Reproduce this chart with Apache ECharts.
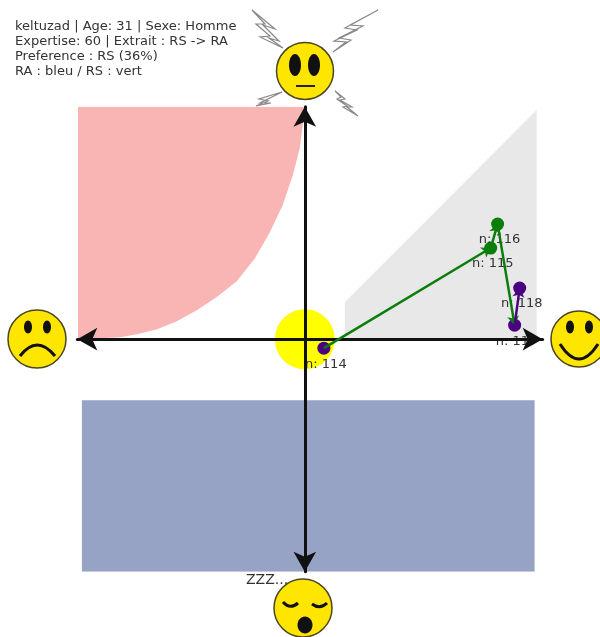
<!DOCTYPE html>
<html>
<head>
<meta charset="utf-8">
<style>html,body{margin:0;padding:0;background:#fff}#main{width:600px;height:637px}</style>
<script src="https://cdn.jsdelivr.net/npm/echarts@6/dist/echarts.min.js"></script>
</head>
<body>
<div id="main"></div>
<script>
var infoLines = [
	'keltuzad | Age: 31 | Sexe: Homme',
	'Expertise: 60 | Extrait : RS -> RA',
	'Preference : RS (36%)',
	'RA : bleu / RS : vert'
];
// zones de fond
var pinkZone = [[-98.7,0.4],[-89.1,0.4],[-80.4,0.9],[-73,2.2],[-64.3,4.3],[-55.7,7.8],[-47,12.6],[-38.3,18.3],[-29.6,25.2],[-21.7,35.2],[-15.2,46.5],[-9.6,58.3],[-5.2,71.3],[-2.2,83],[-0.9,93],[-0.2,100.9]];
var greyZone = [[17.4,0],[17.4,16],[100.9,99.6]];
var blueZone = [[-97,-26.5],[100,-26.5]];
var centerPoint = [[0,0]];
// points de la trajectoire
var pointNames = ['n: 114','n: 115','n: 116','n: 117','n: 118'];
var pointX = [8.3,80.9,83.9,91.3,93.5];
var pointY = [-3.9,39.6,50,6.1,22.2];
var pointType = ['RA','RS','RS','RA','RA'];
var typeColors = {RA:'#4b0082',RS:'#0a7d0a'};
var arrowColors = ['RS','RS','RS','RA'];

var points = [];
for(var i=0;i<pointNames.length;i++){
	points.push({
		name:pointNames[i],
		value:[pointX[i],pointY[i]],
		itemStyle:{color:typeColors[pointType[i]]}
	});
}
var arrows = [];
for(var i=0;i<pointNames.length-1;i++){
	arrows.push({
		coords:[[pointX[i],pointY[i]],[pointX[i+1],pointY[i+1]]],
		lineStyle:{color:typeColors[arrowColors[i]]}
	});
}

function zone(data,color,origin){
	return {
		type:'line',
		data:data,
		z:1,
		symbol:'none',
		silent:true,
		smooth:false,
		lineStyle:{width:0},
		areaStyle:{color:color,opacity:1,origin:origin}
	};
}

// visages et eclairs (decor)
var faceFill = '#ffe600', faceEdge = '#4a4420';
function face(cx,cy,r){
	return {type:'circle',shape:{cx:cx,cy:cy,r:r},style:{fill:faceFill,stroke:faceEdge,lineWidth:1.5},z:20};
}
function eye(cx,cy,rx,ry){
	return {type:'ellipse',shape:{cx:cx,cy:cy,rx:rx,ry:ry},style:{fill:'#111'},z:21};
}
function mouth(x1,y1,cx,cy,x2,y2,w){
	return {type:'bezierCurve',shape:{x1:x1,y1:y1,cpx1:cx,cpy1:cy,x2:x2,y2:y2},style:{fill:null,stroke:'#111',lineWidth:w},z:21};
}
function bolt(pts){
	return {type:'polygon',shape:{points:pts},style:{fill:'#fff',stroke:'#888',lineWidth:1.2},z:19};
}

var option = {
	animation:false,
	textStyle:{fontFamily:'DejaVu Sans'},
	title:{
		text:infoLines.join('\n'),
		left:15,
		top:19,
		padding:0,
		textStyle:{fontFamily:'DejaVu Sans',fontSize:13,fontWeight:'normal',lineHeight:15,color:'#333'}
	},
	grid:{left:77.3,top:106.7,width:465.35,height:465},
	xAxis:{
		type:'value',min:-99,max:103.5,z:4,
		splitLine:{show:false},axisTick:{show:false},axisLabel:{show:false},
		axisLine:{show:true,onZero:true,symbol:['arrow','arrow'],symbolSize:[17,20],lineStyle:{color:'#111',width:3}}
	},
	yAxis:{
		type:'value',min:-101,max:101,z:4,
		splitLine:{show:false},axisTick:{show:false},axisLabel:{show:false},
		axisLine:{show:true,onZero:true,symbol:['arrow','arrow'],symbolSize:[17,20],lineStyle:{color:'#111',width:3}}
	},
	graphic:[
		bolt([[252,10],[275,29],[263,25],[279,41],[269,38],[283,48],[260,37],[270,36],[256,24],[265,24]]),
		bolt([[378,10],[350,25],[363,26],[339,38],[351,40],[333,52],[346,42],[334,41],[357,30],[345,28]]),
		bolt([[282,92],[259,99],[268,101],[256,106],[271,103],[260,103]]),
		bolt([[335,91],[345,99],[340,100],[352,107],[347,107],[358,116],[343,107],[347,106],[337,99],[341,97]]),
		face(305,71,28.5), eye(295,65,6,11), eye(314,65,6,11),
		{type:'line',shape:{x1:296,y1:86,x2:315,y2:86},style:{stroke:'#222',lineWidth:2},z:21},
		face(37,339,29), eye(28,327,4,6.5), eye(47,327,4,6.5), mouth(20,356,37,334,55,356,3),
		face(579,339,28), eye(570,327,4,6.5), eye(589,327,4,6.5), mouth(560,344,579,374,598,344,3),
		face(303,608,29), mouth(283,602,290,610,298,603,3), mouth(312,604,320,610,327,603,3), eye(305,625,7.5,8.5),
		{type:'text',style:{x:246,y:573,text:'ZZZ...',fontFamily:'DejaVu Sans',fontSize:14,fill:'#333'},z:18}
	],
	series:[
		zone(pinkZone,'#f9b4b4','end'),
		zone(greyZone,'#e8e8e8','auto'),
		zone(blueZone,'#97a3c4','start'),
		{
			type:'scatter',
			data:centerPoint,
			z:2,
			symbolSize:60,
			silent:true,
			itemStyle:{color:'#ffff00',opacity:1}
		},
		{
			type:'scatter',
			data:points,
			z:3,
			symbolSize:13,
			silent:true,
			itemStyle:{opacity:1},
			label:{
				show:true,
				position:'bottom',
				distance:3,
				offset:[2,0],
				formatter:'{b}',
				fontFamily:'DejaVu Sans',
				fontSize:13,
				color:'#333'
			}
		},
		{
			type:'lines',
			coordinateSystem:'cartesian2d',
			data:arrows,
			z:5,
			silent:true,
			symbol:['none','arrow'],
			symbolSize:9,
			lineStyle:{width:2.5,opacity:1,curveness:0}
		}
	]
};
var myChart = echarts.init(document.getElementById('main'),null,{renderer:'canvas'});
myChart.setOption(option);
</script>
</body>
</html>
